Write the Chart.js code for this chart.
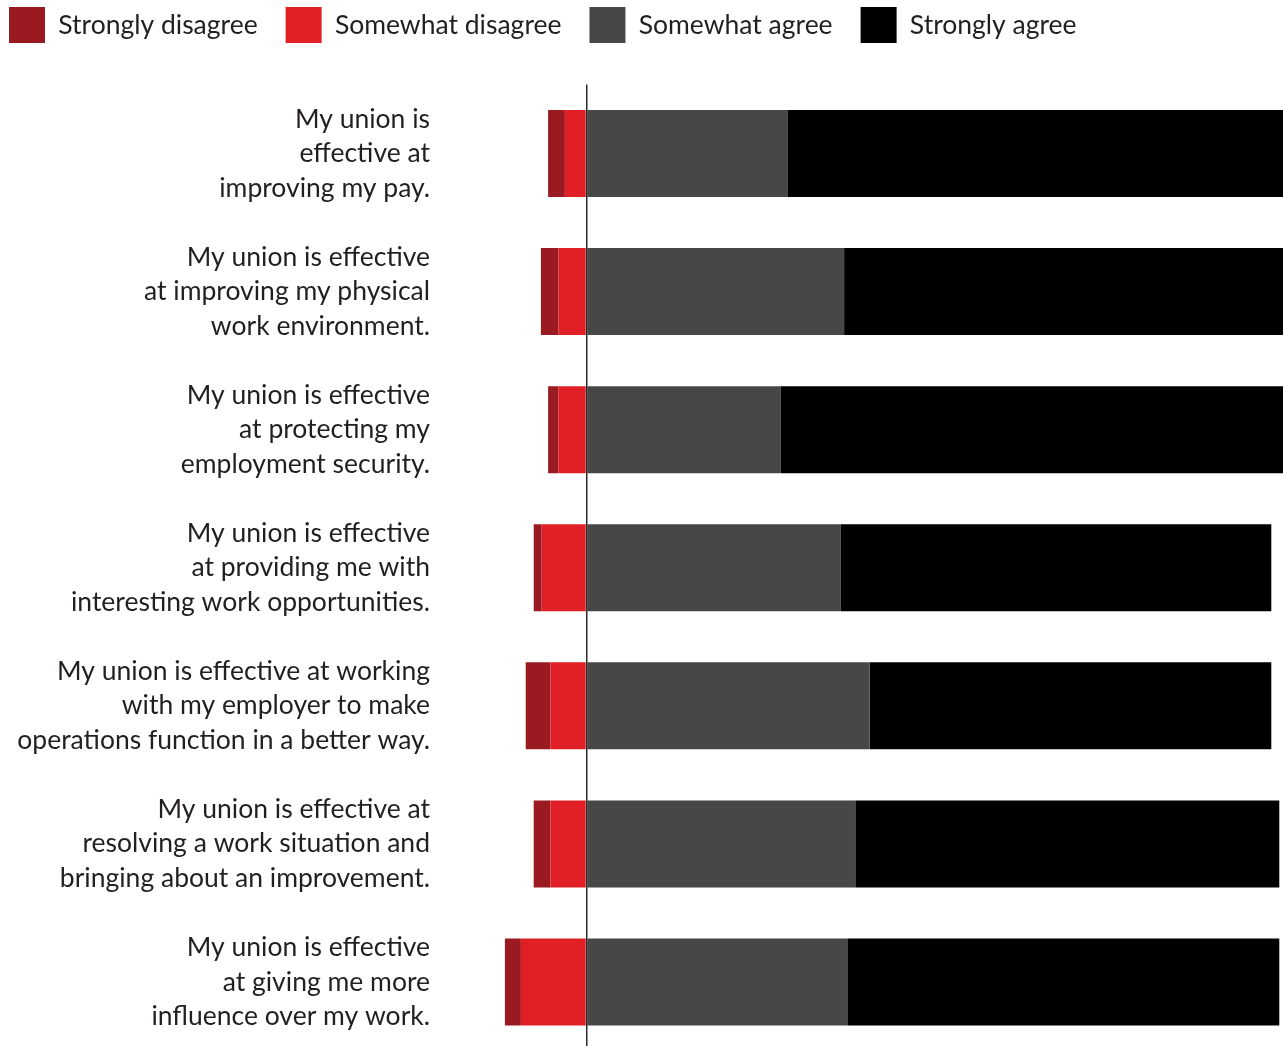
<!DOCTYPE html>
<html>
<head>
<meta charset="utf-8">
<script src="https://cdn.jsdelivr.net/npm/chart.js@4"></script>
<style>
  html, body { margin: 0; padding: 0; background: #fff; overflow: hidden; }
  #unionChart { position: absolute; left: -19px; top: -21px; }
</style>
</head>
<body>
<canvas id="unionChart" width="1302" height="1072"></canvas>
<script>
const questions = [
  ["My union is", "effective at", "improving my pay."],
  ["My union is effective", "at improving my physical", "work environment."],
  ["My union is effective", "at protecting my", "employment security."],
  ["My union is effective", "at providing me with", "interesting work opportunities."],
  ["My union is effective at working", "with my employer to make", "operations function in a better way."],
  ["My union is effective at", "resolving a work situation and", "bringing about an improvement."],
  ["My union is effective", "at giving me more", "influence over my work."]
];

// percentages, disagree shares shown as negative values
const stronglyDisagree = [-2.1, -2.2, -1.3, -1.0, -3.1, -2.1, -2.0];
const somewhatDisagree = [-2.7, -3.5, -3.5, -5.6, -4.5, -4.5, -8.2];
const somewhatAgree = [25.1, 32.2, 24.3, 31.8, 35.4, 33.6, 32.6];
const stronglyAgree = [63.0, 56.0, 63.5, 53.8, 50.2, 53.0, 54.0];

const legendOrder = ["Strongly disagree", "Somewhat disagree", "Somewhat agree", "Strongly agree"];

const textColor = "#231f20";
const fontFamily = "Lato, 'Open Sans', sans-serif";

// push the plot area down below the legend
const legendSpacing = {
  id: "legendSpacing",
  beforeInit(chart) {
    const originalFit = chart.legend.fit;
    chart.legend.fit = function () {
      originalFit.call(this);
      this.height = 105.5;
    };
  }
};

new Chart(document.getElementById("unionChart").getContext("2d"), {
  type: "bar",
  data: {
    labels: questions,
    datasets: [
      // somewhat disagree first so it stacks next to the zero line
      { label: "Somewhat disagree", data: somewhatDisagree, backgroundColor: "#e01f26" },
      { label: "Strongly disagree", data: stronglyDisagree, backgroundColor: "#991b21" },
      { label: "Somewhat agree", data: somewhatAgree, backgroundColor: "#474747" },
      { label: "Strongly agree", data: stronglyAgree, backgroundColor: "#000000" }
    ]
  },
  options: {
    indexAxis: "y",
    responsive: false,
    animation: false,
    layout: { padding: 0 },
    datasets: {
      bar: { barPercentage: 0.63, categoryPercentage: 1, borderWidth: 0 }
    },
    scales: {
      x: {
        stacked: true,
        min: -13.3125,
        max: 87.0625,
        ticks: { display: false, stepSize: 10 },
        border: { display: false },
        grid: {
          drawTicks: false,
          lineWidth: 1.5,
          color: (ctx) => (ctx.tick && ctx.tick.value === 0 ? "#2b2b2b" : "rgba(0,0,0,0)")
        },
        afterFit: (scale) => { scale.height = 0; }
      },
      y: {
        stacked: true,
        grid: { display: false, drawTicks: false },
        border: { display: false },
        ticks: {
          padding: 50,
          color: textColor,
          font: { family: fontFamily, size: 26.5, lineHeight: 1.3 }
        },
        afterFit: (scale) => {
          scale.width = 499;
          scale.paddingTop = 0;
          scale.paddingBottom = 0;
        }
      }
    },
    plugins: {
      legend: {
        position: "top",
        align: "start",
        labels: {
          boxWidth: 36,
          boxHeight: 36,
          padding: 28,
          color: textColor,
          font: { family: fontFamily, size: 26.5 },
          sort: (a, b) => legendOrder.indexOf(a.text) - legendOrder.indexOf(b.text)
        }
      },
      tooltip: { enabled: false }
    }
  },
  plugins: [legendSpacing]
});
</script>
</body>
</html>
